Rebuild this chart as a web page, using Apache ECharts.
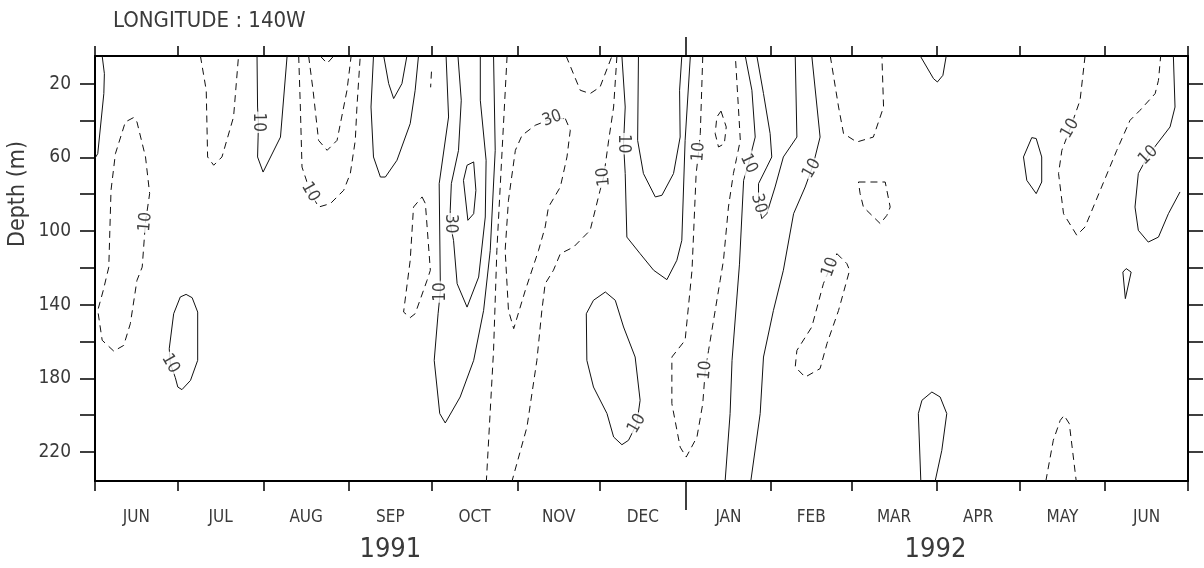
<!DOCTYPE html>
<html>
<head>
<meta charset="utf-8">
<script src="https://cdn.jsdelivr.net/npm/echarts@6/dist/echarts.min.js"></script>
<style>
html,body{margin:0;padding:0;background:#fff;}
#chart{width:1204px;height:568px;}
</style>
</head>
<body>
<div id="chart"></div>
<script>
// ---------- axis data ----------
const monthNames   = ['JUN','JUL','AUG','SEP','OCT','NOV','DEC','JAN','FEB','MAR','APR','MAY','JUN'];
const monthCenters = [15,45.5,76.5,107,137.5,168,198.5,229.5,259.5,289.5,320,350.5,381];
const monthTicks   = [0,30,61,92,122,153,183,245,274,305,335,366,396]; // days since 1 Jun 1991
const yearTick     = [214];                 // 1 Jan 1992
const yearNames    = ['1991','1992'];
const yearCenters  = [107,304.5];
const depthTicks   = [20,40,60,80,100,120,140,160,180,200,220];
const depthLabels  = [20,60,100,140,180,220];

// ---------- contour lines [day, depth(m)] ----------
const cA = [[2.6,5],[3.4,14.6],[3.2,25.4],[1.0,58],[0,60.5]];
const cB = [[6.8,165.2],[2.6,159.3],[1.0,143.1],[3.0,132.2],[5.0,119.6],[5.8,77.9],[7.4,58.0],[11.0,40.8],[14.0,38.4],[15.2,40.8],[18.3,59.8],[19.8,79.7],[18.3,95.1],[17.1,119.6],[15.2,126.8],[12.8,150.3],[10.4,162.1],[6.8,165.2]];
const cC = [[38.2,5],[40.3,23.6],[40.8,59.8],[43.0,64.3],[46.0,59.8],[50.2,38.1],[52.0,5]];
const cD = [[58.7,5],[58.9,32.7],[59.2,41],[59.1,49.0],[58.9,59.8],[60.9,68.0],[67.2,49.0],[69.6,5]];
const cE = [[73.8,5],[74.4,32.7],[75.0,65.3],[76.2,70.7],[78.0,78.8],[81.0,87.0],[85.3,85.1],[90.1,77.9],[92.5,68.8],[94.3,50.8],[94.9,32.7],[96.1,5]];
const cF = [[77.4,5],[79.0,23.6],[81.0,50.8],[84.1,56.2],[87.7,50.8],[91.3,23.6],[92.8,5]];
const cF2 = [[81.6,5],[84.1,9],[86.5,5]];
const cT = [[26.9,163.9],[28.5,144.9],[30.9,135.8],[33.0,134.4],[35.2,136.2],[37.2,144.0],[37.2,170.2],[34.6,181.1],[31.5,186.1],[30.0,184.7],[29.1,179.6],[27.3,172.0],[26.9,163.9]];
const cG = [[100.9,5],[100.0,32.7],[100.9,59.8],[103.4,70.7],[105.2,70.7],[109.4,61.6],[114.2,41.7],[116.0,23.6],[117.2,5]];
const cG2 = [[104.6,5],[106.4,20],[108.2,28.1],[111.2,20],[113.0,5]];
const cSepDot = [[121.9,13.5],[121.6,22]];
const cOctU = [[118.5,81.5],[119.7,85.1],[121.5,121.3],[120.3,126.8],[116.0,144.9],[114.2,147.0],[111.8,144.0],[114.2,115.9],[115.4,87.0],[118.5,81.5]];
const cOct10 = [[127.2,5],[128.1,38.1],[124.7,74.3],[125.1,126.8],[125.1,133.1],[124.3,144.9],[122.9,170.2],[124.9,199.1],[126.9,204.2],[132.3,190.1],[137.2,170.2],[140.8,143.1],[143.2,110.5],[145.0,56.2],[144.4,5]];
const cOct30 = [[131.5,5],[132.7,29.0],[131.7,56.2],[129.1,74.3],[128.7,88.8],[128.7,96],[129.9,105.1],[131.2,128.6],[134.8,141.3],[139.0,125.0],[141.4,92.4],[141.7,61.6],[139.6,29.0],[139.6,5]];
const cOctLoop = [[134.8,64.3],[137.2,62.5],[138.0,77.9],[137.2,90.6],[135.1,94.2],[133.5,72.5],[134.8,64.3]];
const cOctDash = [[149.3,5],[147.5,56.2],[145.6,110.5],[144.4,164.8],[141.8,235.7]];
const cNov30 = [[170.4,39.0],[172.2,45.3],[171.0,59.8],[168.6,76.1],[164.3,87.0],[163.1,97.8],[160.7,110.5],[155.9,132.2],[151.7,153.0],[149.8,143.1],[148.6,110.5],[149.8,83.3],[152.3,56.2],[154.7,48.1],[159.5,42.6],[165.6,39.0],[170.4,39.0]];
const cNov10 = [[189.1,5],[187.9,32.7],[186.1,50.8],[184.3,70.7],[183.0,77.9],[179.4,99.6],[173.4,108.7],[168.6,112.3],[166.1,121.3],[163.1,128.6],[161.9,143.1],[160.1,170.2],[156.5,206.4],[151.1,235.7]];
const cNovU = [[170.7,5],[171.6,8.3],[175.8,23.6],[179.4,25.4],[183.0,21.8],[187.3,5]];
const cDec10 = [[190.9,5],[192.1,32.7],[191.5,52.6],[192.1,68.8],[192.7,103.3],[197.5,112.3],[202.4,121.3],[207.2,126.4],[210.8,115.9],[212.6,105.1],[213.8,50.8],[215.7,5]];
const cDecIn = [[196.9,5],[196.6,50.8],[198.7,68.8],[203.0,81.5],[205.4,80.6],[209.6,68.8],[212.0,49.0],[211.8,23.6],[212.6,5]];
const cDecLoop = [[184.9,133.1],[188.5,137.6],[191.5,152.1],[195.7,168.4],[197.5,191.9],[196.3,204.6],[193.3,213.6],[190.9,216.0],[187.9,211.8],[185.5,199.1],[180.6,184.7],[178.2,170.2],[178.0,144.9],[180.6,137.6],[184.9,133.1]];
const cJan10d = [[220.2,5],[219.3,47.1],[218.7,57.1],[217.8,68.8],[216.3,121.3],[213.8,159.3],[209.0,168.4],[209.0,193.7],[212.0,217.3],[214.2,222.7],[218.1,211.8],[220.2,193.7],[221.1,175.6],[222.3,164.8],[224.7,143.1],[226.5,126.8],[227.7,115.9],[229.5,87.0],[231.3,68.8],[233.8,50.8],[233.1,32.7],[232.0,5]];
const cJanSmall = [[226.8,34.9],[228.7,43.5],[228.0,52.6],[225.9,54.4],[224.7,47.1],[225.3,38.1],[226.8,34.9]];
const cJan10s = [[235.6,5],[238.0,23.6],[239.2,49.0],[238.0,56.2],[236.8,63.4],[235.0,72.5],[233.5,118],[230.8,170.2],[230.1,199.1],[228.3,235.7]];
const cJan30 = [[239.8,5],[242.2,25.4],[244.6,47.1],[245.2,59.8],[243.4,65.3],[240.4,74.3],[240.4,85.1],[241.6,93.3],[243.4,90.6],[246.4,76.1],[249.4,59.8],[254.3,49.0],[253.7,5]];
const cFeb10 = [[259.7,5],[262.7,49.0],[260.9,59.8],[259.7,66.1],[257.3,76.1],[253.1,90.6],[249.4,121.3],[245.8,143.1],[242.2,168.4],[241.0,199.1],[237.6,235.7]];
const cMarU = [[266.4,5],[269.4,32.7],[271.2,47.1],[276.0,51.7],[282.0,49.0],[285.7,32.7],[285.1,5]];
const cMarLoop = [[276.6,73.4],[286.3,73.4],[288.1,87.0],[286.9,91.5],[284.5,96.0],[278.4,87.0],[277.2,79.7],[276.6,73.4]];
const cFebLoop = [[268.8,112.3],[272.4,117.7],[273.4,121.3],[269.4,143.1],[265.2,161.1],[262.7,174.7],[257.3,179.3],[253.7,173.8],[254.3,164.8],[259.7,152.1],[263.9,128.6],[266.4,119.6],[268.8,112.3]];
const cMarTop = [[299.0,5],[303.8,17.3],[305.2,19.1],[307.2,15.5],[308.4,5]];
const cMarBot = [[299.2,235.7],[298.3,199.1],[299.6,191.9],[303.2,187.4],[306.2,190.1],[308.6,199.1],[306.8,219.1],[304.4,235.7]];
const cMayLoop = [[339.4,49.3],[341.0,49.8],[343.0,59.8],[343.0,73.4],[341.0,79.7],[337.6,72.5],[336.4,59.8],[339.4,49.3]];
const cMayBot = [[344.5,235.7],[347.2,213.6],[349.7,202.8],[351.1,200.1],[353.0,204.6],[355.5,235.7]];
const cJunDash = [[358.7,5],[356.9,29.0],[353.3,44.4],[350.3,56.2],[349.1,68.8],[350.9,90.6],[355.7,102.3],[358.7,97.8],[364.2,77.9],[370.2,56.2],[375.0,39.9],[378.6,34.5],[384.1,25.4],[385.3,18.2],[386.1,5]];
const cJunSolid = [[390.7,5],[391.3,32.7],[389.5,43.5],[381.6,58.9],[378.0,68.8],[376.8,87.0],[378.0,99.6],[381.6,106.0],[385.3,103.3],[388.9,90.6],[393.1,78.8]];
const cJunSmall = [[373.6,120.4],[375.4,122.3],[373.3,136.7],[372.4,122.3],[373.6,120.4]];

const dashedContours = [cB,cC,cE,cF,cF2,cSepDot,cOctU,cOctDash,cNov30,cNov10,cNovU,cJan10d,cJanSmall,cMarU,cMarLoop,cFebLoop,cMayBot,cJunDash];
const solidContours  = [cA,cD,cT,cG,cG2,cOct10,cOct30,cOctLoop,cDec10,cDecIn,cDecLoop,cJan10s,cJan30,cFeb10,cMarTop,cMarBot,cMayLoop,cJunSolid,cJunSmall];

// contour labels [day, depth, text]
const contourLabels = [[18.3,95.1,'10'],[59.2,41,'10'],[78.0,78.8,'10'],[27.3,172.0,'10'],[125.1,133.1,'10'],[128.7,96.0,'30'],[165.6,39.0,'30'],[184.3,70.7,'10'],[191.5,52.6,'10'],[196.3,204.6,'10'],[218.7,57.1,'10'],[221.1,175.6,'10'],[236.8,63.4,'10'],[240.4,85.1,'30'],[259.7,66.1,'10'],[266.4,119.6,'10'],[353.3,44.4,'10'],[381.6,58.9,'10']];
const labelAngles = [85,-90,-60,-60,90,-90,20,95,-90,60,85,85,-65,-75,60,70,60,45];

// ---------- chart ----------
const FONT = "'Liberation Sans Narrow','Arial Narrow','DejaVu Sans Condensed',sans-serif";
const INK = '#111';
const TXT = '#3a3a3a';
const X_MIN = 0, X_MAX = 396, Y_MIN = 5, Y_MAX = 235.7;

function nearestName(v, centers, names){
  let bi = 0, bd = Infinity;
  centers.forEach((c,i)=>{ const d = Math.abs(c - v); if (d < bd){ bd = d; bi = i; } });
  return names[bi];
}

const baseX = { type:'value', min:X_MIN, max:X_MAX, gridIndex:0, splitLine:{show:false} };
const frameLine = { show:true, onZero:false, lineStyle:{color:'#000', width:2} };

const xAxis = [
  Object.assign({}, baseX, {
    position:'bottom', axisLine:frameLine,
    axisTick:{show:true, length:10, lineStyle:{color:'#000', width:1.5}, customValues:monthTicks},
    axisLabel:{show:true, customValues:monthCenters, margin:28, fontSize:17, color:TXT, fontFamily:FONT,
      formatter:(v)=>nearestName(v, monthCenters, monthNames)}
  }),
  Object.assign({}, baseX, {
    position:'top', axisLine:frameLine,
    axisTick:{show:true, length:10, lineStyle:{color:'#000', width:1.5}, customValues:monthTicks},
    axisLabel:{show:false}
  }),
  Object.assign({}, baseX, {
    position:'bottom', axisLine:{show:false},
    axisTick:{show:true, length:29, lineStyle:{color:'#000', width:1.5}, customValues:yearTick},
    axisLabel:{show:false}
  }),
  Object.assign({}, baseX, {
    position:'top', axisLine:{show:false},
    axisTick:{show:true, length:19, lineStyle:{color:'#000', width:1.5}, customValues:yearTick},
    axisLabel:{show:false}
  }),
  Object.assign({}, baseX, {
    position:'bottom', axisLine:{show:false}, axisTick:{show:false},
    axisLabel:{show:true, customValues:yearCenters, margin:55, fontSize:27, color:TXT, fontFamily:FONT,
      formatter:(v)=>nearestName(v, yearCenters, yearNames)}
  })
];

const baseY = { type:'value', inverse:true, min:Y_MIN, max:Y_MAX, gridIndex:0, splitLine:{show:false} };
const yAxis = [
  Object.assign({}, baseY, {
    position:'left', axisLine:frameLine,
    axisTick:{show:true, length:15, lineStyle:{color:'#000', width:1.5}, customValues:depthTicks},
    axisLabel:{show:true, customValues:depthLabels, margin:24, fontSize:19, color:TXT, fontFamily:FONT}
  }),
  Object.assign({}, baseY, {
    position:'right', axisLine:frameLine,
    axisTick:{show:true, length:15, lineStyle:{color:'#000', width:1.5}, customValues:depthTicks},
    axisLabel:{show:false}
  })
];

const series = [];
dashedContours.forEach(d => series.push({
  type:'line', data:d, xAxisIndex:0, yAxisIndex:0, symbol:'none', showSymbol:false, silent:true,
  smooth:false, lineStyle:{color:INK, width:1, type:[7,5]}, z:2
}));
solidContours.forEach(d => series.push({
  type:'line', data:d, xAxisIndex:0, yAxisIndex:0, symbol:'none', showSymbol:false, silent:true,
  smooth:false, lineStyle:{color:INK, width:1, type:'solid'}, z:2
}));
series.push({
  type:'scatter', xAxisIndex:0, yAxisIndex:0, symbolSize:1, silent:true, z:5,
  itemStyle:{color:'rgba(0,0,0,0)'},
  label:{show:true, position:'inside', formatter:'{b}', fontSize:17, color:INK, fontFamily:FONT,
    backgroundColor:'#fff', padding:[0,1]},
  data: contourLabels.map((l,i)=>({ value:[l[0], l[1]], name:l[2], label:{rotate:labelAngles[i]} }))
});

const chart = echarts.init(document.getElementById('chart'), null, {renderer:'canvas'});
chart.setOption({
  animation:false,
  backgroundColor:'#fff',
  grid:{left:95, right:16, top:56, bottom:87, containLabel:false},
  xAxis, yAxis, series,
  graphic:[
    {type:'text', x:113, y:21, silent:true,
     style:{text:'LONGITUDE : 140W', font:"22px " + FONT, fill:TXT, textAlign:'left', textVerticalAlign:'middle'}},
    {type:'text', x:18, y:194, rotation:Math.PI/2, silent:true,
     style:{text:'Depth (m)', font:"23px " + FONT, fill:TXT, textAlign:'center', textVerticalAlign:'middle'}}
  ]
});
</script>
</body>
</html>
